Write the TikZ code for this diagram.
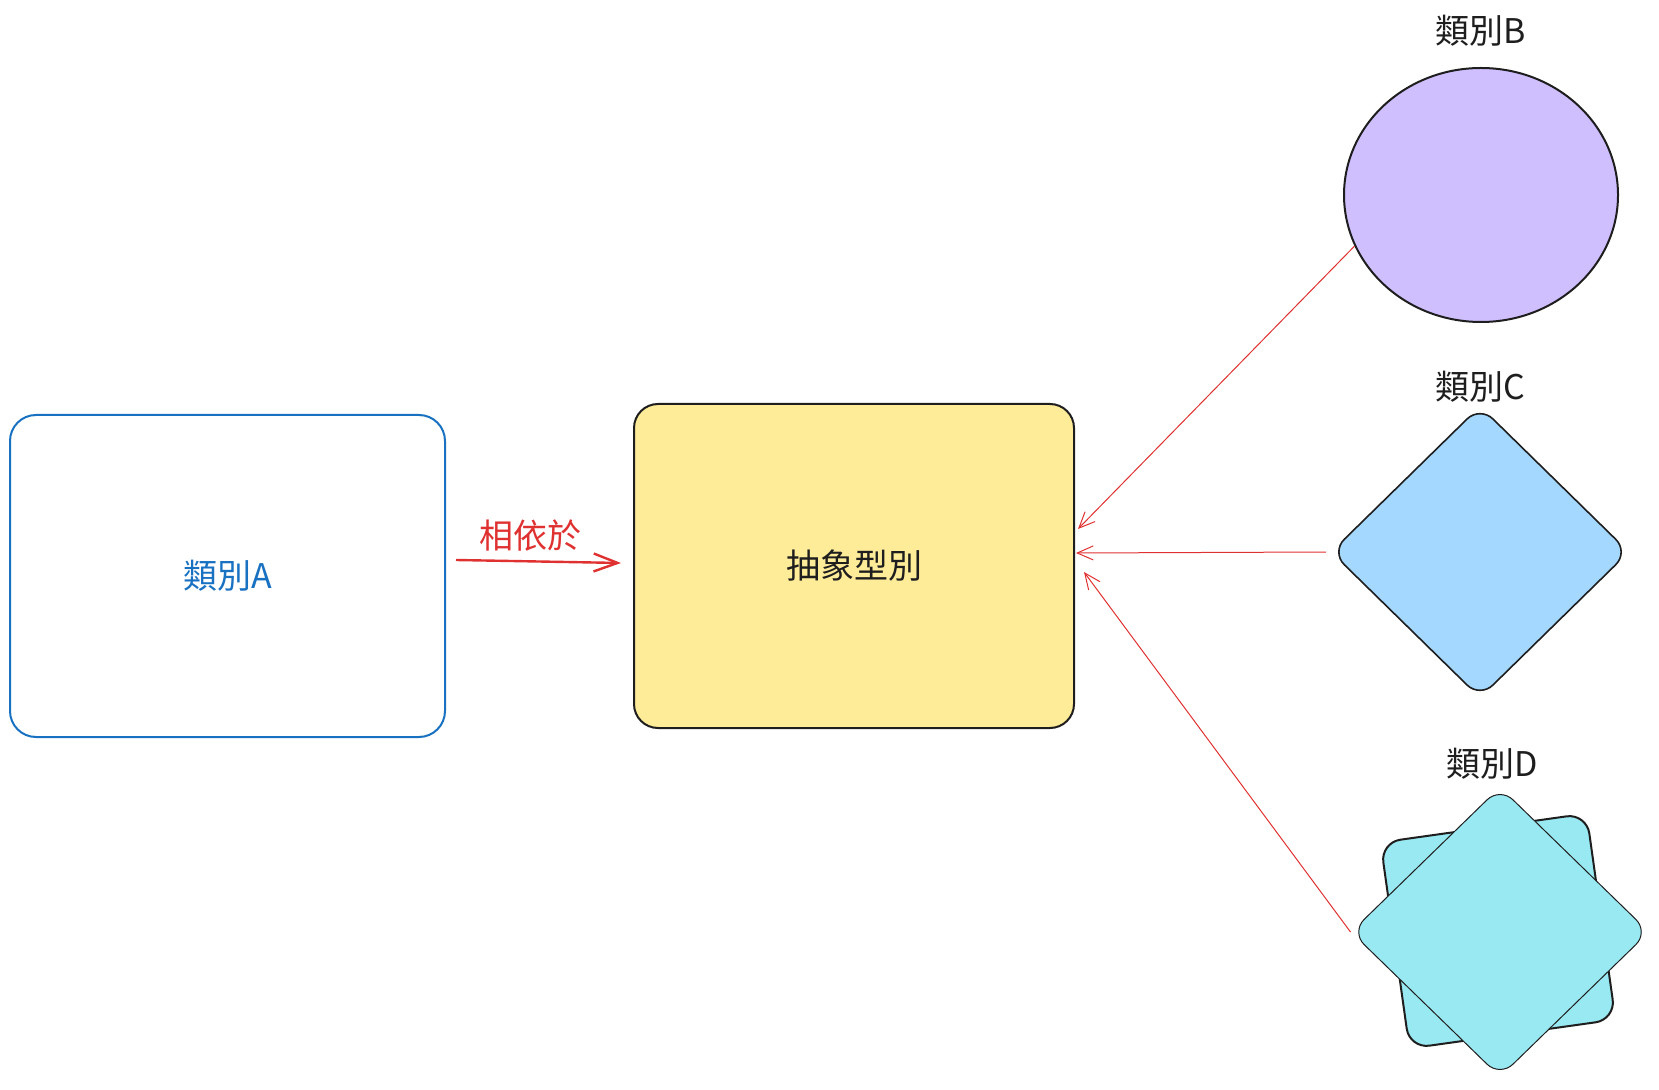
\documentclass[tikz,border=0pt]{standalone}
\usepackage{fontspec}
\setmainfont{Noto Sans CJK TC}
\usetikzlibrary{shapes.geometric, arrows.meta}

\definecolor{ink}{HTML}{1E1E1E}
\definecolor{classblue}{HTML}{1971C2}
\definecolor{linkred}{HTML}{E03131}
\definecolor{abstractfill}{HTML}{FFEC99}
\definecolor{fillB}{HTML}{D0BFFF}
\definecolor{fillC}{HTML}{A5D8FF}
\definecolor{fillD}{HTML}{99E9F2}

\begin{document}
\begin{tikzpicture}[x=0.5pt, y=-0.5pt,
	every node/.style={font=\fontsize{17pt}{20pt}\selectfont, text=ink},
	dep/.style={draw=linkred, line width=0.5pt, -{Straight Barb[length=8pt, width=7pt]}}]
			\useasboundingbox (0,0) rectangle (1659,1090);

			% Nodi
			\node (nA) at (227.5,576) [draw=classblue, line width=1pt, rounded corners=13pt, minimum width=217.5pt, minimum height=161pt, text=classblue] {類別A};
			\node (nAbs) at (854,566) [draw=ink, fill=abstractfill, line width=1pt, rounded corners=12pt, minimum width=220pt, minimum height=162pt] {抽象型別};
			\node (nB) at (1481,195) [ellipse, draw=ink, fill=fillB, line width=1pt, inner sep=0pt, minimum width=137pt, minimum height=127pt, label={[label distance=7pt]above:類別B}] {};
			\node (nC) at (1480,552) [diamond, draw=ink, fill=fillC, line width=0.8pt, inner sep=0pt, rounded corners=9pt, minimum width=149pt, minimum height=146pt, label={[label distance=-2pt]above:類別C}] {};
			\node (nDsq) at (1498,931) [draw=ink, fill=fillD, line width=1pt, rounded corners=10pt, minimum size=104pt, rotate=8] {};
			\node (nD) at (1500,932) [diamond, draw=ink, fill=fillD, line width=0.5pt, inner sep=0pt, rounded corners=9pt, minimum width=149pt, minimum height=145pt, label={[label distance=0pt, xshift=-4pt]above:類別D}] {};

			% Archi
			\draw[draw=linkred, line width=1.2pt, -{Straight Barb[length=12pt, width=9pt]}] ([xshift=5pt, yshift=8pt]nA.east) -- ([xshift=-6pt, yshift=1.5pt]nAbs.west) node (lblDep) [midway, above=1pt, xshift=-4pt, text=linkred] {相依於};
			\draw[dep] (nB.202) -- ([xshift=1.5pt, yshift=18.5pt]nAbs.east);
			\draw[dep] ([xshift=-2pt]nC.west) -- ([xshift=0.5pt, yshift=6.5pt]nAbs.east);
			\draw[dep] (nD.west) -- ([xshift=4.5pt, yshift=-3pt]nAbs.east);
		\end{tikzpicture}
\end{document}
